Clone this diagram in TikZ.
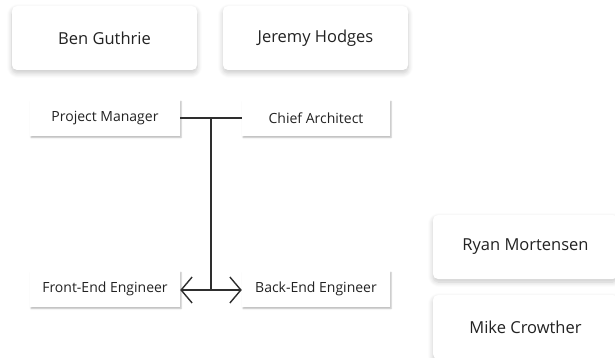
\documentclass[tikz,border=0pt]{standalone}
\usepackage{fontspec}
\setmainfont{Open Sans}
\usetikzlibrary{shadows.blur,arrows.meta}
\definecolor{ink}{HTML}{222222}
\definecolor{linec}{HTML}{2E2E2E}
\tikzset{
  card/.style={fill=white, rounded corners=5pt, minimum width=185pt, minimum height=64pt,
    inner sep=0pt, font=\fontsize{16.5pt}{19pt}\selectfont, text=ink,
    blur shadow={shadow xshift=0pt, shadow yshift=-3pt, shadow blur radius=5pt,
      shadow blur steps=8, shadow opacity=22}},
  role/.style={fill=white, minimum width=150pt, minimum height=36pt,
    inner sep=0pt, font=\fontsize{14pt}{16pt}\selectfont, text=ink,
    blur shadow={shadow xshift=1pt, shadow yshift=-1.5pt, shadow blur radius=1.5pt,
      shadow blur steps=4, shadow opacity=28}},
  link/.style={draw=linec, line width=1.4pt},
  barb/.tip={Straight Barb[length=11pt, width=26pt, line width=1.4pt]}
}
\begin{document}
\begin{tikzpicture}[x=1pt, y=-1pt]
  \useasboundingbox (0,0) rectangle (615,358);
  \clip (0,0) rectangle (615,358);
  % people
  \node[card] (ben) at (104.5,38) {Ben Guthrie};
  \node[card] (jeremy) at (315.5,38) {Jeremy Hodges};
  \node[card] (ryan) at (525.5,247) {Ryan Mortensen};
  \node[card] (mike) at (525.5,327) {Mike Crowther};
  % roles
  \node[role] (pm) at (105,118) {Project Manager};
  \node[role, minimum width=148pt] (ca) at (316,118) {Chief Architect};
  \node[role] (fe) at (105,289) {Front-End Engineer};
  \node[role, minimum width=148pt] (be) at (316,289) {Back-End Engineer};
  % connectors
  \coordinate (top) at (211,118);
  \coordinate (bot) at (211,290);
  \draw[link] (pm.east) -- (ca.west);
  \draw[link] (top) -- (bot);
  \draw[link, barb-barb] (fe.east |- bot) -- (be.west |- bot);
\end{tikzpicture}
\end{document}
